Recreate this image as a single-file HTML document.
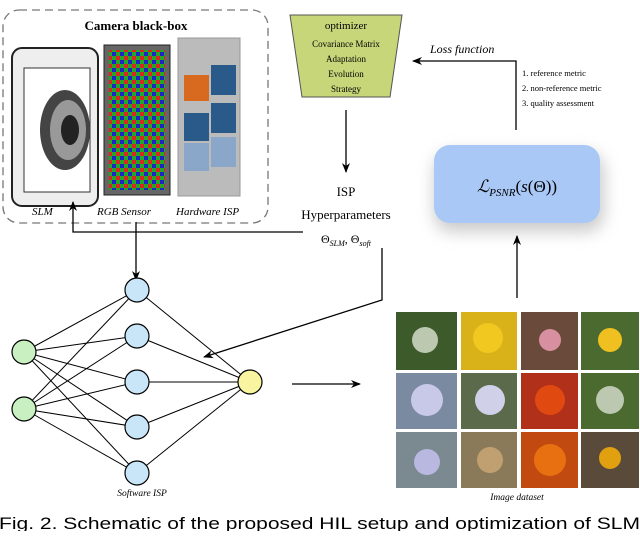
<!DOCTYPE html>
<html><head><meta charset="utf-8"><style>
body{margin:0;background:#fff;width:640px;height:531px;overflow:hidden}
svg text{font-family:"Liberation Serif",serif}
</style></head><body>
<svg width="640" height="531" viewBox="0 0 640 531" xmlns="http://www.w3.org/2000/svg">
<defs>
<marker id="a" markerWidth="10" markerHeight="10" refX="9" refY="5" orient="auto" markerUnits="userSpaceOnUse"><path d="M0,1 L10,5 L0,9 L3,5z" fill="#000"/></marker>
<filter id="sh" x="-30%" y="-40%" width="160%" height="180%"><feGaussianBlur stdDeviation="8"/></filter>
<pattern id="bayer" width="8" height="8" patternUnits="userSpaceOnUse"><rect width="4" height="4" fill="#2a2"/><rect x="4" width="4" height="4" fill="#d22"/><rect y="4" width="4" height="4" fill="#22c"/><rect x="4" y="4" width="4" height="4" fill="#2a2"/></pattern>
</defs>
<rect x="3" y="10" width="265" height="213" rx="16" fill="none" stroke="#777" stroke-width="1.3" stroke-dasharray="8,5"/>
<text x="136" y="30" text-anchor="middle" font-size="13" font-weight="bold">Camera black-box</text>
<rect x="12" y="48" width="86" height="158" rx="10" fill="#eee" stroke="#222" stroke-width="2"/>
<rect x="24" y="68" width="66" height="124" fill="#fff" stroke="#333"/>
<ellipse cx="65" cy="130" rx="25" ry="40" fill="#444"/>
<ellipse cx="68" cy="130" rx="18" ry="30" fill="#999"/>
<ellipse cx="70" cy="130" rx="9" ry="15" fill="#222"/>
<text x="32" y="215" font-size="11" font-style="italic">SLM</text>
<rect x="104" y="45" width="66" height="150" fill="#666" stroke="#222"/>
<rect x="109" y="50" width="56" height="140" fill="url(#bayer)"/>
<text x="97" y="215" font-size="11" font-style="italic">RGB Sensor</text>
<rect x="178" y="38" width="62" height="158" fill="#bbb" stroke="#999"/>
<rect x="184" y="75" width="25" height="26" fill="#d76a1e"/><rect x="211" y="65" width="25" height="30" fill="#2a5a8a"/>
<rect x="184" y="113" width="25" height="28" fill="#2a5a8a"/><rect x="211" y="103" width="25" height="30" fill="#2a5a8a"/>
<rect x="184" y="143" width="25" height="28" fill="#8aa6c8"/><rect x="211" y="137" width="25" height="30" fill="#8aa6c8"/>
<text x="176" y="215" font-size="11" font-style="italic">Hardware ISP</text>
<polygon points="290,15 402,15 390,97 302,97" fill="#c8d67a" stroke="#555"/>
<text x="346" y="29" text-anchor="middle" font-size="11">optimizer</text>
<text x="346" y="47" text-anchor="middle" font-size="9">Covariance Matrix</text>
<text x="346" y="62" text-anchor="middle" font-size="9">Adaptation</text>
<text x="346" y="77" text-anchor="middle" font-size="9">Evolution</text>
<text x="346" y="92" text-anchor="middle" font-size="9">Strategy</text>
<line x1="346" y1="110" x2="346" y2="172" stroke="#000" stroke-width="1.3" marker-end="url(#a)"/>
<text x="346" y="196" text-anchor="middle" font-size="13">ISP</text>
<text x="346" y="219" text-anchor="middle" font-size="13">Hyperparameters</text>
<text x="346" y="243" text-anchor="middle" font-size="12">Θ<tspan font-size="8" font-style="italic" dy="3">SLM</tspan><tspan dy="-3">, Θ</tspan><tspan font-size="8" font-style="italic" dy="3">soft</tspan></text>
<rect x="434" y="152" width="170" height="80" rx="18" fill="#999" opacity="0.5" filter="url(#sh)"/>
<rect x="434" y="145" width="166" height="78" rx="16" fill="#a9c8f6"/>
<text x="517" y="192" text-anchor="middle" font-size="17" font-style="italic">ℒ<tspan font-size="11" dy="4">PSNR</tspan><tspan dy="-4" font-style="normal">(</tspan>s<tspan font-style="normal">(Θ))</tspan></text>
<polyline points="516,130 516,61 413,61" fill="none" stroke="#000" stroke-width="1.3" marker-end="url(#a)"/>
<text x="430" y="53" font-size="12" font-style="italic">Loss function</text>
<text x="522" y="76" font-size="8.5">1. reference metric</text>
<text x="522" y="91" font-size="8.5">2. non-reference metric</text>
<text x="522" y="106" font-size="8.5">3. quality assessment</text>
<line x1="517" y1="298" x2="517" y2="236" stroke="#000" stroke-width="1.3" marker-end="url(#a)"/>
<polyline points="303,232 73,232 73,202" fill="none" stroke="#000" stroke-width="1.3" marker-end="url(#a)"/>
<line x1="136" y1="222" x2="136" y2="280" stroke="#000" stroke-width="1.3" marker-end="url(#a)"/>
<polyline points="382,248 382,300 204,357" fill="none" stroke="#000" stroke-width="1.3" marker-end="url(#a)"/>
<line x1="292" y1="384" x2="360" y2="384" stroke="#000" stroke-width="1.3" marker-end="url(#a)"/>
<g stroke="#000" stroke-width="1">
<line x1="24" y1="352" x2="137" y2="290"/><line x1="24" y1="352" x2="137" y2="336"/><line x1="24" y1="352" x2="137" y2="382"/><line x1="24" y1="352" x2="137" y2="427"/><line x1="24" y1="352" x2="137" y2="473"/>
<line x1="24" y1="409" x2="137" y2="290"/><line x1="24" y1="409" x2="137" y2="336"/><line x1="24" y1="409" x2="137" y2="382"/><line x1="24" y1="409" x2="137" y2="427"/><line x1="24" y1="409" x2="137" y2="473"/>
<line x1="250" y1="382" x2="137" y2="290"/><line x1="250" y1="382" x2="137" y2="336"/><line x1="250" y1="382" x2="137" y2="382"/><line x1="250" y1="382" x2="137" y2="427"/><line x1="250" y1="382" x2="137" y2="473"/>
</g>
<g stroke="#000" stroke-width="1.2">
<circle cx="24" cy="352" r="12" fill="#c8f0c0"/><circle cx="24" cy="409" r="12" fill="#c8f0c0"/>
<circle cx="137" cy="290" r="12" fill="#c8e6f8"/><circle cx="137" cy="336" r="12" fill="#c8e6f8"/><circle cx="137" cy="382" r="12" fill="#c8e6f8"/><circle cx="137" cy="427" r="12" fill="#c8e6f8"/><circle cx="137" cy="473" r="12" fill="#c8e6f8"/>
<circle cx="250" cy="382" r="12" fill="#f8f4a0"/>
</g>
<text x="142" y="496" text-anchor="middle" font-size="9.5" font-style="italic">Software ISP</text>
<g>
<rect x="396" y="312" width="61" height="58" fill="#3d5a2a"/><rect x="461" y="312" width="56" height="58" fill="#d9b21a"/><rect x="521" y="312" width="57" height="58" fill="#6a4a3a"/><rect x="581" y="312" width="58" height="58" fill="#4a6a30"/>
<rect x="396" y="373" width="61" height="56" fill="#7a8aa0"/><rect x="461" y="373" width="56" height="56" fill="#5a6a4a"/><rect x="521" y="373" width="57" height="56" fill="#b0301a"/><rect x="581" y="373" width="58" height="56" fill="#4a6a30"/>
<rect x="396" y="432" width="61" height="56" fill="#7a8a90"/><rect x="461" y="432" width="56" height="56" fill="#8a7a5a"/><rect x="521" y="432" width="57" height="56" fill="#c04a10"/><rect x="581" y="432" width="58" height="56" fill="#5a4a3a"/>
<circle cx="425" cy="340" r="13" fill="#bcc8b0"/><circle cx="488" cy="338" r="15" fill="#f0c820"/><circle cx="550" cy="340" r="11" fill="#d890a0"/><circle cx="610" cy="340" r="12" fill="#f0c020"/>
<circle cx="427" cy="400" r="16" fill="#c8c8e8"/><circle cx="490" cy="400" r="15" fill="#d0d0e8"/><circle cx="550" cy="400" r="15" fill="#e04a10"/><circle cx="610" cy="400" r="14" fill="#bcc8b0"/>
<circle cx="427" cy="462" r="13" fill="#b8b8e0"/><circle cx="490" cy="460" r="13" fill="#c0a070"/><circle cx="550" cy="460" r="16" fill="#e87010"/><circle cx="610" cy="458" r="11" fill="#e0a010"/>
</g>
<text x="517" y="500" text-anchor="middle" font-size="9.5" font-style="italic">Image dataset</text>
<text x="-1" y="529" font-size="16.5" textLength="641" lengthAdjust="spacingAndGlyphs" style="font-family:'Liberation Sans',sans-serif">Fig. 2. Schematic of the proposed HIL setup and optimization of SLM</text>
</svg>
</body></html>
